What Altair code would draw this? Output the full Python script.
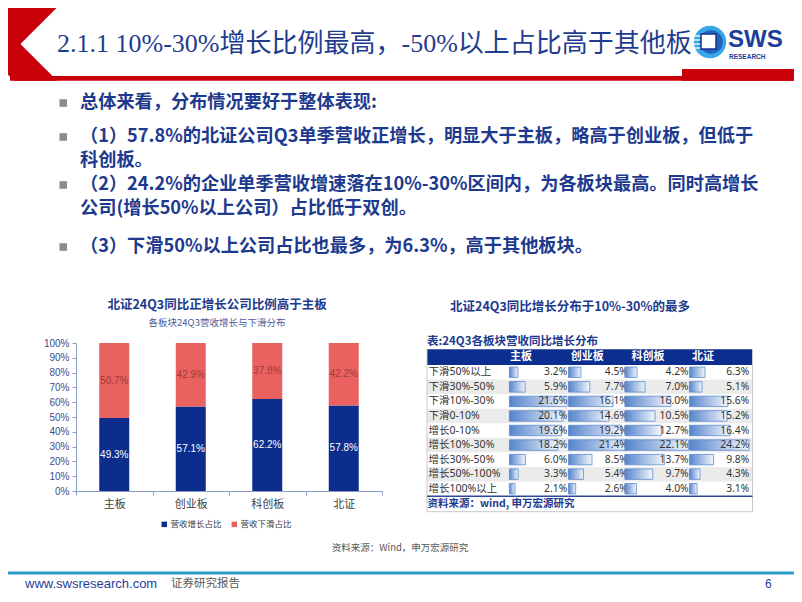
import altair as alt
import pandas as pd

# ---------------- data ----------------
boards = ['主板', '创业板', '科创板', '北证']
growth = [49.3, 57.1, 62.2, 57.8]
decline = [50.7, 42.9, 37.8, 42.2]
series_names = ['营收增长占比', '营收下滑占比']

rows = ['下滑50%以上', '下滑30%-50%', '下滑10%-30%', '下滑0-10%', '增长0-10%',
        '增长10%-30%', '增长30%-50%', '增长50%-100%', '增长100%以上']
col_names = ['主板', '创业板', '科创板', '北证']
t_main = [3.2, 5.9, 21.6, 20.1, 19.6, 18.2, 6.0, 3.3, 2.1]
t_gem = [4.5, 7.7, 16.1, 14.6, 19.2, 21.4, 8.5, 5.4, 2.6]
t_star = [4.2, 7.0, 16.0, 10.5, 12.7, 22.1, 13.7, 9.7, 4.0]
t_bse = [6.3, 5.1, 15.6, 15.2, 16.4, 24.2, 9.8, 4.3, 3.1]
table_cols = [t_main, t_gem, t_star, t_bse]

title_text = '2.1.1 10%-30%增长比例最高，-50%以上占比高于其他板'
body_lines = [
    '总体来看，分布情况要好于整体表现:',
    '（1）57.8%的北证公司Q3单季营收正增长，明显大于主板，略高于创业板，但低于',
    '科创板。',
    '（2）24.2%的企业单季营收增速落在10%-30%区间内，为各板块最高。同时高增长',
    '公司(增长50%以上公司）占比低于双创。',
    '（3）下滑50%以上公司占比也最多，为6.3%，高于其他板块。',
]
bullet_flags = [True, True, False, True, False, True]

# ---------------- layout helpers ----------------
OX, OY = 76, 343          # page position of the bar chart's plot origin
PW, PH = 306, 148


def X(v):
    return v - OX


def Y(v):
    return v - OY


CJK = 'Noto Sans CJK SC'
TAB = 'Noto Sans, Noto Sans CJK SC'
SANS = 'Liberation Sans, Noto Sans CJK SC'
NAVY = '#0D2D8C'
RED = '#EA625F'
TXT_NAVY = '#1D3A8E'
ONE = pd.DataFrame({'k': [0]})

L = []


def txt(s, x, y, size, color, weight='normal', align='left', font=CJK):
    return alt.Chart(ONE).mark_text(text=s, align=align, baseline='middle', fontSize=size,
                                    fontWeight=weight, color=color, font=font).encode(
        x=alt.value(X(x)), y=alt.value(Y(y)))


def rule(x1, y1, x2, y2, color, w):
    return alt.Chart(ONE).mark_rule(color=color, strokeWidth=w).encode(
        x=alt.value(X(x1)), y=alt.value(Y(y1)), x2=alt.value(X(x2)), y2=alt.value(Y(y2)))


def rect(x1, y1, x2, y2, color, **kw):
    return alt.Chart(ONE).mark_rect(color=color, **kw).encode(
        x=alt.value(X(x1)), y=alt.value(Y(y1)), x2=alt.value(X(x2)), y2=alt.value(Y(y2)))


# ---------------- header ----------------
HRED = '#C8000A'
L.append(rule(-2.45, 42.7, 62.55, -22.3, HRED, 34.3))
L.append(rule(-2.45, 42.7, 47, 92.15, HRED, 30.5))
L.append(rect(-10, 80.8, 75, 106, '#FFFFFF'))
L.append(rect(10, 76, 810, 80.8, HRED))
L.append(rect(682, 69, 810, 80.8, HRED))
L.append(txt(title_text, 57, 44, 26, '#1F3C8F', font='Liberation Serif, Noto Sans CJK SC'))

# logo
L.append(alt.Chart(ONE).mark_point(shape='circle', filled=True, size=1050, color='#38A6E8', opacity=1)
         .encode(x=alt.value(X(710)), y=alt.value(Y(42))))
L.append(alt.Chart(ONE).mark_point(shape='circle', filled=True, size=560, color='#1C64BC', opacity=1)
         .encode(x=alt.value(X(711)), y=alt.value(Y(42))))
for yy in [36, 40, 44, 48]:
    L.append(rule(694, yy, 704, yy, '#FFFFFF', 1.3))
L.append(rect(701, 34, 716, 49, '#FFFFFF', stroke='#15338F', strokeWidth=1.5))
L.append(txt('SWS', 728, 40, 24, '#1A3E9A', weight='bold', font='Liberation Sans'))
L.append(txt('RESEARCH', 729, 56.8, 6.5, '#1A3E9A', weight='bold', font='Liberation Sans'))

# ---------------- bullets ----------------
line_y = [103, 137, 161, 185, 209, 247]
for s, yy, b in zip(body_lines, line_y, bullet_flags):
    if b:
        L.append(rect(59.5, yy - 3.8, 67, yy + 3.8, '#8C8C8C'))
    L.append(txt(s, 80, yy, 18.2, TXT_NAVY, weight='bold'))

# ---------------- bar chart ----------------
bar_df = pd.DataFrame({
    'board': boards + boards,
    'series': [series_names[0]] * 4 + [series_names[1]] * 4,
    'value': [v / 100 for v in growth + decline],
    'ord': [0] * 4 + [1] * 4,
})
AX = '#8C9CC8'
bars = alt.Chart(bar_df).mark_bar(size=30).encode(
    x=alt.X('board:N', scale=alt.Scale(type='band', domain=boards, paddingInner=0, paddingOuter=0),
            axis=alt.Axis(title=None, labelAngle=0, labelFontSize=11, labelColor='#404040', labelFont=SANS,
                          domainColor=AX, tickColor=AX, tickBand='extent', tickSize=4, labelPadding=3,
                          grid=False)),
    y=alt.Y('value:Q', stack='zero', scale=alt.Scale(domain=[0, 1], nice=False),
            axis=alt.Axis(title=None, values=[i / 10 for i in range(11)], format='.0%', labelFontSize=10,
                          labelColor='#3B4E8C', labelFont=SANS, domainColor=AX, tickColor=AX, tickSize=4,
                          labelPadding=3, grid=False)),
    color=alt.Color('series:N', scale=alt.Scale(domain=series_names, range=[NAVY, RED]),
                    legend=alt.Legend(orient='none', legendX=X(160), legendY=Y(520), direction='horizontal',
                                      title=None, symbolType='square', symbolSize=30, labelFontSize=8.5,
                                      labelColor='#404040', labelFont=CJK, columnPadding=8, labelOffset=2,
                                      symbolStrokeWidth=0)),
    order=alt.Order('ord:Q'),
)
L.append(bars)
bar_labels = alt.Chart(bar_df).transform_stack(
    stack='value', groupby=['board'], as_=['y0', 'y1'], sort=[alt.SortField('ord', order='ascending')]
).transform_calculate(
    mid='(datum.y0 + datum.y1) / 2', lab="format(datum.value * 100, '.1f') + '%'"
).mark_text(fontSize=10, font=SANS, baseline='middle').encode(
    x=alt.X('board:N', scale=alt.Scale(type='point', domain=boards, padding=0.5), axis=None),
    y=alt.Y('mid:Q', scale=alt.Scale(domain=[0, 1], nice=False), axis=None),
    text='lab:N',
    color=alt.Color('series:N', scale=alt.Scale(domain=series_names, range=['#FFFFFF', '#9E3B38']), legend=None),
)
L.append(bar_labels)
L.append(txt('北证24Q3同比正增长公司比例高于主板', 217, 305, 12.5, TXT_NAVY, weight='bold', align='center'))
L.append(txt('各板块24Q3营收增长与下滑分布', 217, 323, 9.5, '#4A5B9E', align='center'))

# ---------------- table ----------------
T_L, T_R = 427, 752.5
col_starts = [510, 570.7, 631.4, 692.1]
CW = 60.7
ROW_TOP, ROW_BOT = 365, 496

row_df = pd.DataFrame({'row': rows, 'idx': list(range(len(rows)))})
y_band = alt.Y('row:N', scale=alt.Scale(type='band', domain=rows, range=[Y(ROW_TOP), Y(ROW_BOT)],
                                        paddingInner=0, paddingOuter=0), axis=None)
y_point = alt.Y('row:N', scale=alt.Scale(type='point', domain=rows, range=[Y(ROW_TOP), Y(ROW_BOT)],
                                         padding=0.5), axis=None)

L.append(txt('北证24Q3同比增长分布于10%-30%的最多', 570, 306.5, 12.5, TXT_NAVY, weight='bold', align='center'))
L.append(txt('表:24Q3各板块营收同比增长分布', 427, 341.5, 11.5, TXT_NAVY, weight='bold'))
L.append(rect(T_L, 349.3, T_R, 365, '#0C2E8F'))
for name, s in zip(col_names, col_starts):
    L.append(txt(name, s, 357, 11, '#FFFFFF', weight='bold'))

L.append(alt.Chart(row_df).transform_filter('datum.idx % 2 == 1').mark_rect(color='#EBEBEB').encode(
    y=y_band, x=alt.value(X(T_L)), x2=alt.value(X(T_R))))
L.append(alt.Chart(row_df).mark_text(align='left', baseline='middle', fontSize=10.5, color='#333333',
                                     font=TAB).encode(y=y_point, x=alt.value(X(428.5)), text='row:N'))

grad = alt.Gradient(gradient='linear', x1=0, x2=1, y1=0, y2=0,
                    stops=[alt.GradientStop(color='#5584CC', offset=0),
                           alt.GradientStop(color='#F2F6FC', offset=1)])
for vals, s in zip(table_cols, col_starts):
    d = pd.DataFrame({'row': rows, 'v': vals})
    L.append(alt.Chart(d).mark_bar(size=10.5, orient='horizontal', fill=grad, stroke='#5D8AD0',
                                   strokeWidth=0.8).encode(
        y=y_band,
        x=alt.X('v:Q', scale=alt.Scale(domain=[min(vals), max(vals)], range=[X(s + 5), X(s + 57)],
                                       zero=False, nice=False), axis=None),
        x2=alt.value(X(s + 1))))
    L.append(alt.Chart(d).transform_calculate(lab="format(datum.v, '.1f') + '%'").mark_text(
        align='right', baseline='middle', fontSize=10.3, color='#333333', font=TAB).encode(
        y=y_point, x=alt.value(X(s + CW - 3.5)), text='lab:N'))

L.append(rule(T_L, 349.3, T_L, 511.7, '#C8C8C8', 1))
L.append(rule(T_R, 349.3, T_R, 511.7, '#C8C8C8', 1))
L.append(rule(T_L, 511.7, T_R, 511.7, '#C8C8C8', 1))
L.append(rule(T_L, 496.3, T_R, 496.3, '#2C4A9A', 1.5))
L.append(txt('资料来源：wind, 申万宏源研究', 427.5, 503.8, 10.5, TXT_NAVY, weight='bold'))

# ---------------- footer ----------------
L.append(txt('资料来源：Wind，申万宏源研究', 400, 548, 9.5, '#595959', align='center'))
L.append(rule(0, 573, 810, 573, '#2E9CCA', 3))
L.append(txt('www.swsresearch.com', 25, 584, 13, '#1F3D99', font='Liberation Sans'))
L.append(txt('证券研究报告', 171, 584, 11.5, '#595959'))
L.append(txt('6', 765, 584, 12, '#1F3D99', font='Liberation Sans'))

chart = alt.layer(*L).resolve_scale(
    x='independent', y='independent', color='independent'
).properties(
    width=PW, height=PH,
    padding={'left': OX - 8, 'top': OY - 8, 'right': 786 - (OX - 8) - PW, 'bottom': 586 - (OY - 8) - PH},
    autosize=alt.AutoSizeParams(type='none'),
).configure_view(stroke=None)

chart.save('out.html', embed_options={'renderer': 'svg', 'actions': False})
